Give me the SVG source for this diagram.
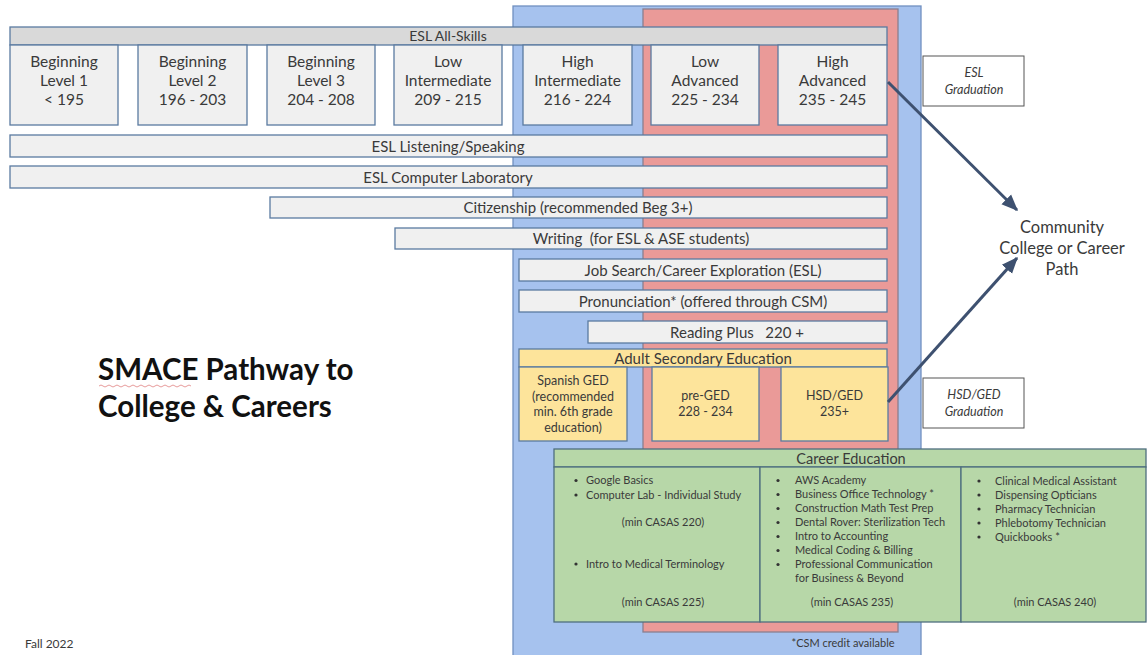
<svg xmlns="http://www.w3.org/2000/svg" width="1148" height="655" viewBox="0 0 1148 655">
  <style>
    text { font-family: Lato, "Open Sans", "Liberation Sans", sans-serif; fill: #3a3a3a; }
    .box { fill: #f0f0f0; stroke: #5a7aa0; stroke-width: 1.3; }
    .hdr { fill: #d9d9d9; stroke: #5a7aa0; stroke-width: 1.3; }
    .ylw { fill: #fde49b; stroke: #5a7aa0; stroke-width: 1.3; }
    .grn { fill: #b7d7a8; stroke: #4f6f7f; stroke-width: 1.3; }
    .lbl { font-size: 15.5px; text-anchor: middle; }
    .bar { font-size: 15px; text-anchor: middle; }
    .ged { font-size: 12.5px; text-anchor: middle; }
    .sm { font-size: 11px; }
    .smc { font-size: 11px; text-anchor: middle; }
    .grad { font-size: 12.5px; font-style: italic; text-anchor: middle; }
    .dot { fill: #333333; }
    .conn { stroke: #3e5170; stroke-width: 3; fill: none; marker-end: url(#head); }
  </style>
  <defs>
    <marker id="head" viewBox="0 0 12 10" refX="11" refY="5" markerWidth="5.5" markerHeight="5.5" orient="auto" markerUnits="strokeWidth">
      <path d="M0,0 L12,5 L0,10 z" fill="#3e5170"/>
    </marker>
  </defs>

  <rect width="1148" height="655" fill="#ffffff"/>

  <!-- level bands -->
  <g id="band-intermediate">
    <rect x="513" y="6" width="408" height="655" fill="#a6c2ee" stroke="#7090c0" stroke-width="1.3"/>
  </g>
  <g id="band-advanced">
    <rect x="643" y="9" width="255" height="623" fill="#ea9a98" stroke="#8a7f90" stroke-width="1.3"/>
  </g>

  <!-- ESL All-Skills -->
  <g id="esl-all-skills">
    <rect class="hdr" x="10" y="27" width="877" height="18"/>
    <text class="bar" x="448" y="41" style="font-size:14px">ESL All-Skills</text>
  </g>
  <g id="beginning-1">
    <rect class="box" x="10" y="45" width="108" height="80"/>
    <text class="lbl" x="64" y="67">Beginning</text>
    <text class="lbl" x="64" y="86">Level 1</text>
    <text class="lbl" x="64" y="105">&lt; 195</text>
  </g>
  <g id="beginning-2">
    <rect class="box" x="138" y="45" width="109" height="80"/>
    <text class="lbl" x="192.5" y="67">Beginning</text>
    <text class="lbl" x="192.5" y="86">Level 2</text>
    <text class="lbl" x="192.5" y="105">196 - 203</text>
  </g>
  <g id="beginning-3">
    <rect class="box" x="267" y="45" width="108" height="80"/>
    <text class="lbl" x="321" y="67">Beginning</text>
    <text class="lbl" x="321" y="86">Level 3</text>
    <text class="lbl" x="321" y="105">204 - 208</text>
  </g>
  <g id="low-intermediate">
    <rect class="box" x="394" y="45" width="108" height="80"/>
    <text class="lbl" x="448" y="67">Low</text>
    <text class="lbl" x="448" y="86">Intermediate</text>
    <text class="lbl" x="448" y="105">209 - 215</text>
  </g>
  <g id="high-intermediate">
    <rect class="box" x="523" y="45" width="109" height="80"/>
    <text class="lbl" x="577.5" y="67">High</text>
    <text class="lbl" x="577.5" y="86">Intermediate</text>
    <text class="lbl" x="577.5" y="105">216 - 224</text>
  </g>
  <g id="low-advanced">
    <rect class="box" x="651" y="45" width="108" height="80"/>
    <text class="lbl" x="705" y="67">Low</text>
    <text class="lbl" x="705" y="86">Advanced</text>
    <text class="lbl" x="705" y="105">225 - 234</text>
  </g>
  <g id="high-advanced">
    <rect class="box" x="778" y="45" width="109" height="80"/>
    <text class="lbl" x="832.5" y="67">High</text>
    <text class="lbl" x="832.5" y="86">Advanced</text>
    <text class="lbl" x="832.5" y="105">235 - 245</text>
  </g>

  <!-- course bars -->
  <g id="listening-speaking">
    <rect class="box" x="10" y="135" width="877" height="22"/>
    <text class="bar" x="448" y="151.5">ESL Listening/Speaking</text>
  </g>
  <g id="computer-lab">
    <rect class="box" x="10" y="166" width="877" height="22"/>
    <text class="bar" x="448" y="182.5">ESL Computer Laboratory</text>
  </g>
  <g id="citizenship">
    <rect class="box" x="270" y="197" width="617" height="21"/>
    <text class="bar" x="578" y="213">Citizenship (recommended Beg 3+)</text>
  </g>
  <g id="writing">
    <rect class="box" x="395" y="228" width="492" height="21"/>
    <text class="bar" x="641" y="244" xml:space="preserve">Writing  (for ESL &amp; ASE students)</text>
  </g>
  <g id="job-search">
    <rect class="box" x="519" y="259" width="368" height="22"/>
    <text class="bar" x="703" y="275.5">Job Search/Career Exploration (ESL)</text>
  </g>
  <g id="pronunciation">
    <rect class="box" x="519" y="290" width="368" height="22"/>
    <text class="bar" x="703" y="306.5">Pronunciation* (offered through CSM)</text>
  </g>
  <g id="reading-plus">
    <rect class="box" x="588" y="321" width="299" height="22"/>
    <text class="bar" x="737" y="337.5" xml:space="preserve">Reading Plus   220 +</text>
  </g>

  <!-- Adult Secondary Education -->
  <g id="adult-secondary">
    <rect class="ylw" x="519" y="349" width="368" height="18"/>
    <text class="bar" x="703" y="363.5">Adult Secondary Education</text>
  </g>
  <g id="spanish-ged">
    <rect class="ylw" x="519" y="367" width="108" height="74"/>
    <text class="ged" x="573" y="385">Spanish GED</text>
    <text class="ged" x="573" y="400.5">(recommended</text>
    <text class="ged" x="573" y="416">min. 6th grade</text>
    <text class="ged" x="573" y="431.5">education)</text>
  </g>
  <g id="pre-ged">
    <rect class="ylw" x="652" y="367" width="107" height="74"/>
    <text class="ged" x="705.5" y="400">pre-GED</text>
    <text class="ged" x="705.5" y="416">228 - 234</text>
  </g>
  <g id="hsd-ged">
    <rect class="ylw" x="781" y="367" width="107" height="74"/>
    <text class="ged" x="834.5" y="400">HSD/GED</text>
    <text class="ged" x="834.5" y="416">235+</text>
  </g>

  <!-- Career Education -->
  <g id="career-education">
    <rect class="grn" x="554" y="449" width="592" height="18"/>
    <text class="bar" x="851" y="463.5" style="font-size:14.5px">Career Education</text>
    <rect class="grn" x="554" y="467" width="206" height="155"/>
    <rect class="grn" x="760" y="467" width="201" height="155"/>
    <rect class="grn" x="961" y="467" width="185" height="155"/>

    <g id="career-col-1">
      <circle class="dot" cx="576" cy="480.5" r="1.6"/>
      <circle class="dot" cx="576" cy="495" r="1.6"/>
      <circle class="dot" cx="576" cy="564" r="1.6"/>
      <text class="sm" x="586" y="484">Google Basics</text>
      <text class="sm" x="586" y="498.5">Computer Lab - Individual Study</text>
      <text class="smc" x="663" y="526">(min CASAS 220)</text>
      <text class="sm" x="586" y="567.5">Intro to Medical Terminology</text>
      <text class="smc" x="663" y="606">(min CASAS 225)</text>
    </g>
    <g id="career-col-2">
      <circle class="dot" cx="778" cy="480.5" r="1.6"/>
      <circle class="dot" cx="778" cy="494.5" r="1.6"/>
      <circle class="dot" cx="778" cy="508.5" r="1.6"/>
      <circle class="dot" cx="778" cy="522.5" r="1.6"/>
      <circle class="dot" cx="778" cy="536.5" r="1.6"/>
      <circle class="dot" cx="778" cy="550.5" r="1.6"/>
      <circle class="dot" cx="778" cy="564.5" r="1.6"/>
      <text class="sm" x="795" y="484">AWS Academy</text>
      <text class="sm" x="795" y="498">Business Office Technology *</text>
      <text class="sm" x="795" y="512">Construction Math Test Prep</text>
      <text class="sm" x="795" y="526">Dental Rover: Sterilization Tech</text>
      <text class="sm" x="795" y="540">Intro to Accounting</text>
      <text class="sm" x="795" y="554">Medical Coding &amp; Billing</text>
      <text class="sm" x="795" y="568">Professional Communication</text>
      <text class="sm" x="795" y="582">for Business &amp; Beyond</text>
      <text class="smc" x="852" y="606">(min CASAS 235)</text>
    </g>
    <g id="career-col-3">
      <circle class="dot" cx="979" cy="481" r="1.6"/>
      <circle class="dot" cx="979" cy="495" r="1.6"/>
      <circle class="dot" cx="979" cy="509" r="1.6"/>
      <circle class="dot" cx="979" cy="523" r="1.6"/>
      <circle class="dot" cx="979" cy="537" r="1.6"/>
      <text class="sm" x="995" y="484.5">Clinical Medical Assistant</text>
      <text class="sm" x="995" y="498.5">Dispensing Opticians</text>
      <text class="sm" x="995" y="512.5">Pharmacy Technician</text>
      <text class="sm" x="995" y="526.5">Phlebotomy Technician</text>
      <text class="sm" x="995" y="540.5">Quickbooks *</text>
      <text class="smc" x="1055" y="606">(min CASAS 240)</text>
    </g>
  </g>
  <text class="smc" x="843" y="647">*CSM credit available</text>

  <!-- graduation labels -->
  <g id="esl-graduation">
    <rect x="923" y="56" width="101" height="50" fill="#ffffff" stroke="#555" stroke-width="1"/>
    <text class="grad" x="974" y="77">ESL</text>
    <text class="grad" x="974" y="94">Graduation</text>
  </g>
  <g id="hsd-ged-graduation">
    <rect x="923" y="378" width="101" height="50" fill="#ffffff" stroke="#555" stroke-width="1"/>
    <text class="grad" x="974" y="399">HSD/GED</text>
    <text class="grad" x="974" y="416">Graduation</text>
  </g>

  <g id="community-college">
    <text x="1062" y="233" style="font-size:16.5px;text-anchor:middle">Community</text>
    <text x="1062" y="254" style="font-size:16.5px;text-anchor:middle">College or Career</text>
    <text x="1062" y="275" style="font-size:16.5px;text-anchor:middle">Path</text>
  </g>

  <!-- connectors -->
  <g id="connectors">
    <line class="conn" x1="888" y1="82" x2="1017" y2="210"/>
    <line class="conn" x1="888" y1="402" x2="1017" y2="258"/>
  </g>

  <!-- title -->
  <g id="title">
    <text x="98" y="380" style="font-size:29.5px;font-weight:bold;fill:#111">SMACE Pathway to</text>
    <text x="98" y="417" style="font-size:29.5px;font-weight:bold;fill:#111">College &amp; Careers</text>
    <path d="M99,386 q2,-2 4,0 t4,0 t4,0 t4,0 t4,0 t4,0 t4,0 t4,0 t4,0 t4,0 t4,0 t4,0 t4,0 t4,0 t4,0 t4,0 t4,0 t4,0 t4,0 t4,0 t4,0 t4,0 t4,0" fill="none" stroke="#e08080" stroke-width="0.8"/>
  </g>
  <text x="25" y="648" style="font-size:12px">Fall 2022</text>
</svg>
